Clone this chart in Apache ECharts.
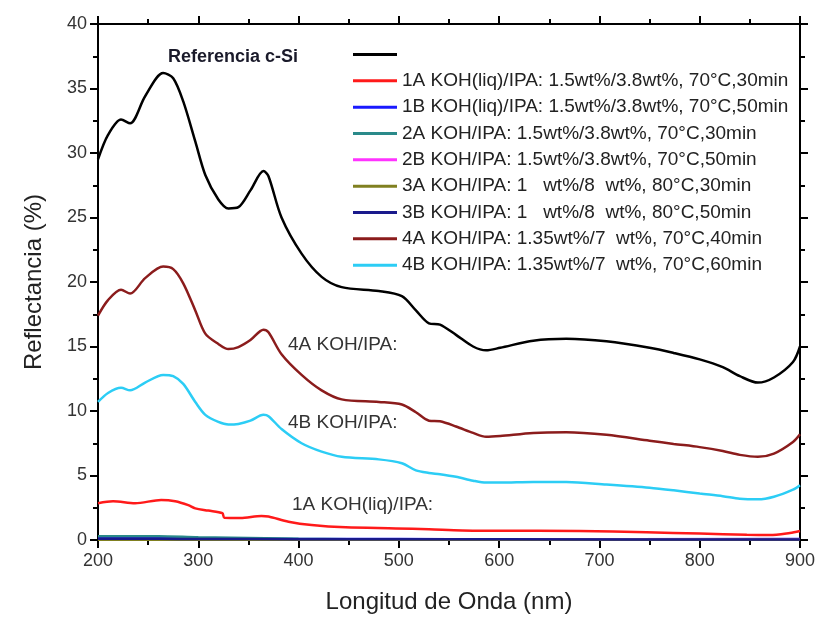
<!DOCTYPE html>
<html>
<head>
<meta charset="utf-8">
<script src="https://cdn.jsdelivr.net/npm/echarts@6/dist/echarts.min.js"></script>
<style>
  html, body { margin: 0; padding: 0; background: #fff; }
  #chart { width: 820px; height: 617px; }
</style>
</head>
<body>
<div id="chart"></div>
<script>
// series names (legend order)
var seriesNames = [
  'Referencia c-Si',
  '1A KOH(liq)/IPA: 1.5wt%/3.8wt%, 70°C,30min',
  '1B KOH(liq)/IPA: 1.5wt%/3.8wt%, 70°C,50min',
  '2A KOH/IPA: 1.5wt%/3.8wt%, 70°C,30min',
  '2B KOH/IPA: 1.5wt%/3.8wt%, 70°C,50min',
  '3A KOH/IPA: 1   wt%/8  wt%, 80°C,30min',
  '3B KOH/IPA: 1   wt%/8  wt%, 80°C,50min',
  '4A KOH/IPA: 1.35wt%/7  wt%, 70°C,40min',
  '4B KOH/IPA: 1.35wt%/7  wt%, 70°C,60min'
]
var seriesColors = ['#000000', '#ff1a1a', '#1a1aff', '#2a8a8a', '#ff33ff', '#808020', '#1a1a8c', '#8b1c1c', '#2ccdf5']

// wavelength grid (nm) shared by the three upper curves
var wl = [200, 210, 223, 232, 247, 265, 275, 285, 297, 307, 320, 330, 340, 352, 365, 370, 383, 403, 423, 443,
  480, 503, 517, 530, 541, 557, 574, 587, 601, 634, 667, 707, 750, 774, 800, 823, 840, 858, 874, 893, 900]

// reflectance (%)
var refSi = [29.5, 31.4, 32.6, 32.3, 34.4, 36.2, 35.8, 34.0, 30.9, 28.3, 26.4, 25.7, 25.8, 27.1, 28.6, 28.2, 25.0, 22.2, 20.4, 19.6,
  19.3, 18.9, 17.8, 16.8, 16.7, 15.9, 15.0, 14.7, 14.9, 15.45, 15.6, 15.4, 14.9, 14.5, 14.0, 13.4, 12.7, 12.2, 12.6, 13.8, 15.0]
var s4A = [17.4, 18.6, 19.4, 19.1, 20.3, 21.2, 21.0, 19.9, 17.8, 16.0, 15.2, 14.8, 14.95, 15.5, 16.3, 16.1, 14.4, 12.8, 11.6, 10.9,
  10.7, 10.5, 9.9, 9.25, 9.2, 8.8, 8.3, 8.0, 8.06, 8.3, 8.35, 8.15, 7.7, 7.45, 7.2, 6.9, 6.6, 6.45, 6.7, 7.6, 8.2]
var s4B = [10.7, 11.4, 11.8, 11.6, 12.2, 12.8, 12.7, 12.1, 10.7, 9.7, 9.15, 8.95, 9.0, 9.25, 9.7, 9.6, 8.6, 7.5, 6.85, 6.45,
  6.25, 5.95, 5.4, 5.2, 5.1, 4.9, 4.6, 4.45, 4.45, 4.5, 4.5, 4.3, 4.05, 3.85, 3.6, 3.4, 3.2, 3.15, 3.35, 3.9, 4.25]

// lower curves have their own wavelength points
var wl1A = [200, 215, 237, 263, 277, 290, 297, 310, 324, 326, 342, 363, 370, 390, 413, 447, 497, 530, 563, 597, 680, 747, 800, 847, 870, 890, 900]
var s1A = [2.85, 3.0, 2.85, 3.1, 3.0, 2.7, 2.45, 2.28, 2.08, 1.72, 1.7, 1.86, 1.82, 1.42, 1.16, 0.98, 0.9, 0.83, 0.74, 0.72, 0.7, 0.6, 0.5, 0.4, 0.38, 0.55, 0.7]
var wlLow = [200, 260, 300, 400, 500, 600, 900]
var s1B = [0.15, 0.14, 0.12, 0.08, 0.07, 0.06, 0.08]
var s2A = [0.3, 0.3, 0.22, 0.1, 0.05, 0.05, 0.05]
var s2B = [0.05, 0.05, 0.04, 0.04, 0.03, 0.03, 0.03]
var s3A = [0.02, 0.02, 0.02, 0.02, 0.02, 0.02, 0.02]
var s3B = [0.1, 0.09, 0.08, 0.06, 0.05, 0.05, 0.04]

var xTicks = { min: 200, max: 900, interval: 100 }
var yTicks = { min: 0, max: 40, interval: 5 }

var notes = [
  { text: '4A KOH/IPA:', x: 288, y: 345 },
  { text: '4B KOH/IPA:', x: 288, y: 423 },
  { text: '1A KOH(liq)/IPA:', x: 292, y: 505 }
]

function pairs(xs, ys) {
  return xs.map(function (x, i) { return [x, ys[i]] })
}

var curves = [
  pairs(wl, refSi), pairs(wl1A, s1A), pairs(wlLow, s1B), pairs(wlLow, s2A), pairs(wlLow, s2B),
  pairs(wlLow, s3A), pairs(wlLow, s3B), pairs(wl, s4A), pairs(wl, s4B)
]

var FONT = '"Liberation Sans", Arial, sans-serif'

function xAxisCfg(pos) {
  var bottom = pos === 'bottom'
  return {
    type: 'value', position: pos, min: xTicks.min, max: xTicks.max, interval: xTicks.interval,
    axisLine: { show: true, onZero: false, lineStyle: { color: '#000', width: 2 } },
    axisTick: { show: true, inside: false, length: 8, lineStyle: { color: '#000', width: 2 } },
    minorTick: { show: true, splitNumber: 2, length: 5, lineStyle: { color: '#000', width: 2 } },
    axisLabel: { show: bottom, fontSize: 18, color: '#333', margin: 12, fontFamily: FONT },
    splitLine: { show: false },
    name: bottom ? 'Longitud de Onda (nm)' : '',
    nameLocation: 'middle', nameGap: 50,
    nameTextStyle: { fontSize: 24, color: '#222', fontFamily: FONT }
  }
}
function yAxisCfg(pos) {
  var left = pos === 'left'
  return {
    type: 'value', position: pos, min: yTicks.min, max: yTicks.max, interval: yTicks.interval,
    axisLine: { show: true, onZero: false, lineStyle: { color: '#000', width: 2 } },
    axisTick: { show: true, inside: false, length: 8, lineStyle: { color: '#000', width: 2 } },
    minorTick: { show: true, splitNumber: 2, length: 5, lineStyle: { color: '#000', width: 2 } },
    axisLabel: { show: left, fontSize: 18, color: '#333', margin: 11, fontFamily: FONT },
    splitLine: { show: false },
    name: left ? 'Reflectancia (%)' : '',
    nameLocation: 'middle', nameGap: 52, nameRotate: 90,
    nameTextStyle: { fontSize: 24, color: '#222', fontFamily: FONT }
  }
}

var chart = echarts.init(document.getElementById('chart'))
var option = {
  backgroundColor: '#fff',
  animation: false,
  title: {
    text: seriesNames[0], left: 163, top: 43,
    textStyle: { fontSize: 18, fontWeight: 'bold', color: '#1a1a2a', fontFamily: FONT }
  },
  legend: {
    orient: 'vertical', left: 353, top: 45, padding: 0,
    icon: 'rect', itemWidth: 44, itemHeight: 3, itemGap: 7.33,
    data: seriesNames,
    formatter: function (name) { return name === seriesNames[0] ? ' ' : name },
    textStyle: { fontSize: 19, lineHeight: 16, color: '#222', fontFamily: FONT }
  },
  grid: { left: 98, right: 20, top: 24, bottom: 77, outerBoundsMode: 'none' },
  xAxis: [xAxisCfg('bottom'), xAxisCfg('top')],
  yAxis: [yAxisCfg('left'), yAxisCfg('right')],
  graphic: notes.map(function (n) {
    return {
      type: 'text', x: n.x, y: n.y,
      style: { text: n.text, font: '19px ' + FONT, fill: '#333', verticalAlign: 'middle' }
    }
  }),
  series: seriesNames.map(function (name, i) {
    return {
      name: name, type: 'line', data: curves[i],
      xAxisIndex: 0, yAxisIndex: 0,
      symbol: 'none', smooth: 0.3,
      color: seriesColors[i],
      lineStyle: { width: 2.5, color: seriesColors[i] },
      z: i === 6 ? 3 : 2
    }
  })
}
chart.setOption(option)
</script>
</body>
</html>
